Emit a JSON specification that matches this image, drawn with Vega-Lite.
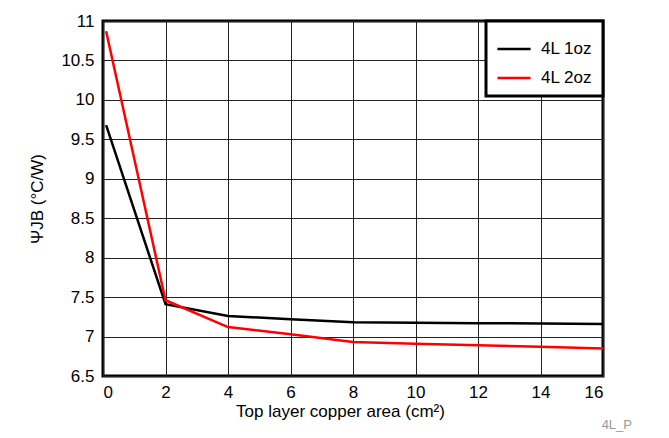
{
  "$schema": "https://vega.github.io/schema/vega-lite/v6.json",
  "width": 500,
  "height": 355,
  "autosize": {"type": "none"},
  "padding": {"left": 103, "top": 21, "right": 66, "bottom": 62},
  "background": "white",
  "data": {
    "values": [
      {"area": 0.1, "psi": 9.68, "series": "4L 1oz"},
      {"area": 2, "psi": 7.41, "series": "4L 1oz"},
      {"area": 4, "psi": 7.26, "series": "4L 1oz"},
      {"area": 6, "psi": 7.22, "series": "4L 1oz"},
      {"area": 8, "psi": 7.18, "series": "4L 1oz"},
      {"area": 10, "psi": 7.175, "series": "4L 1oz"},
      {"area": 12, "psi": 7.17, "series": "4L 1oz"},
      {"area": 14, "psi": 7.165, "series": "4L 1oz"},
      {"area": 16, "psi": 7.16, "series": "4L 1oz"},
      {"area": 0.1, "psi": 10.87, "series": "4L 2oz"},
      {"area": 2, "psi": 7.46, "series": "4L 2oz"},
      {"area": 4, "psi": 7.12, "series": "4L 2oz"},
      {"area": 6, "psi": 7.03, "series": "4L 2oz"},
      {"area": 8, "psi": 6.93, "series": "4L 2oz"},
      {"area": 10, "psi": 6.91, "series": "4L 2oz"},
      {"area": 12, "psi": 6.89, "series": "4L 2oz"},
      {"area": 14, "psi": 6.87, "series": "4L 2oz"},
      {"area": 16, "psi": 6.85, "series": "4L 2oz"}
    ]
  },
  "title": {
    "text": "4L_P",
    "orient": "bottom",
    "anchor": "end",
    "frame": "group",
    "baseline": "top",
    "fontSize": 13,
    "fontWeight": "normal",
    "color": "#999999",
    "font": "Liberation Sans",
    "offset": 0,
    "dx": 29
  },
  "mark": {"type": "line", "strokeWidth": 2.5, "clip": true},
  "encoding": {
    "x": {
      "field": "area",
      "type": "quantitative",
      "scale": {"domain": [0, 16], "nice": false, "zero": false},
      "axis": {
        "values": [0, 2, 4, 6, 8, 10, 12, 14, 16],
        "labelExpr": "datum.value",
        "title": "Top layer copper area (cm²)",
        "titleX": 237,
        "ticks": false,
        "labelPadding": 8,
        "titlePadding": 3,
        "domain": false
      }
    },
    "y": {
      "field": "psi",
      "type": "quantitative",
      "scale": {"domain": [6.5, 11], "nice": false, "zero": false},
      "axis": {
        "values": [6.5, 7, 7.5, 8, 8.5, 9, 9.5, 10, 10.5, 11],
        "labelExpr": "datum.value",
        "title": "ΨJB (°C/W)",
        "ticks": false,
        "labelPadding": 9,
        "titlePadding": 14,
        "domain": false
      }
    },
    "color": {
      "field": "series",
      "type": "nominal",
      "scale": {"domain": ["4L 1oz", "4L 2oz"], "range": ["#000000", "#ff0000"]},
      "legend": {
        "title": null,
        "orient": "top-right",
        "offset": 0,
        "padding": 10,
        "strokeColor": "#000000",
        "fillColor": "#ffffff",
        "symbolType": "stroke",
        "symbolSize": 1100,
        "symbolStrokeWidth": 2.5,
        "labelFontSize": 17,
        "labelFont": "Liberation Sans",
        "labelColor": "#000000",
        "rowPadding": 3,
        "labelOffset": 9,
        "encode": {"legend": {"update": {"strokeWidth": {"value": 3}}}}
      }
    }
  },
  "config": {
    "view": {"stroke": "#000000", "strokeWidth": 3},
    "axis": {
      "grid": true,
      "gridColor": "#222222",
      "gridWidth": 1,
      "gridOpacity": 1,
      "labelFont": "Liberation Sans",
      "labelFontSize": 17,
      "labelColor": "#000000",
      "titleFont": "Liberation Sans",
      "titleFontSize": 17,
      "titleFontWeight": "normal",
      "titleColor": "#000000"
    }
  }
}
